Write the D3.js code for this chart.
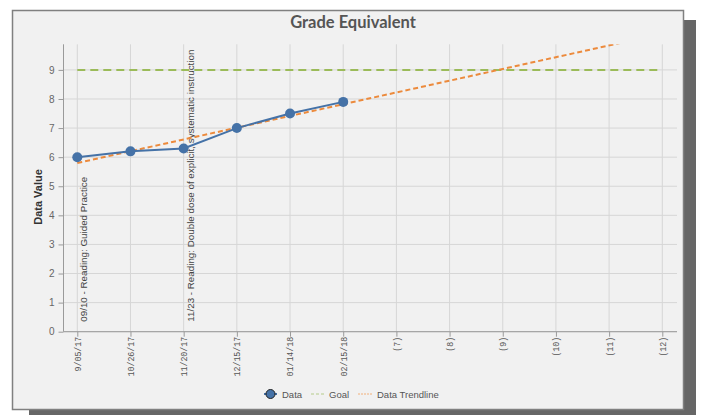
<!DOCTYPE html>
<html>
<head>
<meta charset="utf-8">
<script src="https://cdn.jsdelivr.net/npm/d3@7/dist/d3.min.js"></script>
<style>
  body { margin: 0; background: #fff; }
  svg text { font-family: "Liberation Sans", Arial, sans-serif; }
</style>
</head>
<body>
<div id="chart"></div>
<script>
// Category labels along the x axis
var dates = ["9/05/17", "10/26/17", "11/20/17", "12/15/17", "01/14/18", "02/15/18",
             "(7)", "(8)", "(9)", "(10)", "(11)", "(12)"];

// Measured grade equivalent values
var dataValues = [6.0, 6.2, 6.3, 7.0, 7.5, 7.9];

// Goal level
var goalValue = 9;

// Trendline end points (position along the axis, value)
var trendIdx = [0, 10.27];
var trendVal = [5.8, 9.95];

// Y tick labels
var yTicks = [0, 1, 2, 3, 4, 5, 6, 7, 8, 9];

// Intervention notes (category they sit on, text)
var noteCats = ["9/05/17", "11/20/17"];
var noteText = ["09/10 - Reading: Guided Practice",
                "11/23 - Reading: Double dose of explicit, systematic instruction"];

var width = 701, height = 415;

var svg = d3.select("#chart")
    .append("svg")
    .attr("width", width)
    .attr("height", height);

// drop shadow + panel
svg.append("rect")
    .attr("x", 29).attr("y", 20)
    .attr("width", 667).attr("height", 400)
    .attr("fill", "#666");

svg.append("rect")
    .attr("x", 12.5).attr("y", 10.5)
    .attr("width", 671).attr("height", 399)
    .attr("fill", "#f1f1f1")
    .attr("stroke", "#808080")
    .attr("stroke-width", 1.5);

// plot area
var plotLeft = 63.5, plotRight = 677, plotTop = 44.3, plotBottom = 331.7;

var xScale = d3.scalePoint()
    .domain(dates)
    .range([77.3, 662.3]);

// numeric helper for positions between categories
var xIdx = d3.scaleLinear()
    .domain([0, dates.length - 1])
    .range([xScale(dates[0]), xScale(dates[dates.length - 1])]);

var yScale = d3.scaleLinear()
    .domain([0, 9.88])
    .range([plotBottom, plotTop]);

svg.append("defs").append("clipPath")
    .attr("id", "plot-clip")
    .append("rect")
    .attr("x", plotLeft).attr("y", plotTop)
    .attr("width", plotRight - plotLeft).attr("height", plotBottom - plotTop);

// horizontal grid
svg.append("g")
    .selectAll("line")
    .data(yTicks)
    .enter()
    .append("line")
    .attr("x1", plotLeft).attr("x2", plotRight)
    .attr("y1", function (d) { return yScale(d); })
    .attr("y2", function (d) { return yScale(d); })
    .attr("stroke", "#d6d6d6")
    .attr("stroke-width", 1);

// vertical grid
svg.append("g")
    .selectAll("line")
    .data(dates)
    .enter()
    .append("line")
    .attr("x1", function (d) { return xScale(d); })
    .attr("x2", function (d) { return xScale(d); })
    .attr("y1", plotTop).attr("y2", plotBottom)
    .attr("stroke", "#d6d6d6")
    .attr("stroke-width", 1);

// y axis
var yAxis = d3.axisLeft(yScale)
    .tickValues(yTicks)
    .tickSize(5)
    .tickPadding(4)
    .tickSizeOuter(0);

var yAxisG = svg.append("g")
    .attr("transform", "translate(" + plotLeft + ",0)")
    .call(yAxis);
yAxisG.select(".domain").attr("stroke", "#9a9a9a").attr("d", "M0," + plotTop + "V" + plotBottom);
yAxisG.selectAll(".tick line").attr("stroke", "#9a9a9a");
yAxisG.selectAll(".tick text")
    .attr("fill", "#666")
    .style("font-size", "10px")
    .style("font-family", "'Liberation Sans', Arial, sans-serif");

// x axis
var xAxis = d3.axisBottom(xScale)
    .tickSize(5)
    .tickSizeOuter(0);

var xAxisG = svg.append("g")
    .attr("transform", "translate(0," + plotBottom + ")")
    .call(xAxis);
xAxisG.select(".domain").attr("stroke", "#9a9a9a").attr("d", "M" + plotLeft + ",0H" + plotRight);
xAxisG.selectAll(".tick line").attr("stroke", "#9a9a9a");
xAxisG.selectAll(".tick text")
    .attr("fill", "#555")
    .attr("transform", "translate(0,5) rotate(-90)")
    .attr("x", 0).attr("y", 0)
    .attr("dy", "0.35em")
    .style("text-anchor", "end")
    .style("font-size", "8.3px")
    .style("font-family", "'Liberation Mono', 'DejaVu Sans Mono', monospace");

// intervention notes
svg.append("g")
    .selectAll("text")
    .data(noteText)
    .enter()
    .append("text")
    .attr("transform", function (d, i) {
        return "translate(" + (xScale(noteCats[i]) + 10) + "," + (plotBottom - 10) + ") rotate(-90)";
    })
    .attr("fill", "#444")
    .style("font-size", "9.8px")
    .text(function (d) { return d; });

// goal line
svg.append("line")
    .attr("x1", xScale(dates[0]))
    .attr("x2", xScale(dates[dates.length - 1]) - 2)
    .attr("y1", yScale(goalValue))
    .attr("y2", yScale(goalValue))
    .attr("stroke", "#9bbb59")
    .attr("stroke-width", 2)
    .attr("stroke-dasharray", "8,5");

// trendline
var trendLine = d3.line()
    .x(function (d) { return xIdx(d); })
    .y(function (d, i) { return yScale(trendVal[i]); });

svg.append("path")
    .attr("clip-path", "url(#plot-clip)")
    .attr("d", trendLine(trendIdx))
    .attr("fill", "none")
    .attr("stroke", "#ec8a3c")
    .attr("stroke-width", 2)
    .attr("stroke-dasharray", "5,3");

// data line
var dataLine = d3.line()
    .x(function (d, i) { return xScale(dates[i]); })
    .y(function (d) { return yScale(d); });

svg.append("path")
    .attr("d", dataLine(dataValues))
    .attr("fill", "none")
    .attr("stroke", "#4572a7")
    .attr("stroke-width", 2);

svg.append("g")
    .selectAll("circle")
    .data(dataValues)
    .enter()
    .append("circle")
    .attr("cx", function (d, i) { return xScale(dates[i]); })
    .attr("cy", function (d) { return yScale(d); })
    .attr("r", 5)
    .attr("fill", "#4572a7");

// title
svg.append("text")
    .attr("x", 353)
    .attr("y", 27.5)
    .style("text-anchor", "middle")
    .style("font-family", "Lato, 'Open Sans', sans-serif")
    .style("font-weight", "bold")
    .style("font-size", "16.5px")
    .attr("fill", "#555")
    .text("Grade Equivalent");

// y axis label
svg.append("text")
    .attr("transform", "rotate(-90)")
    .attr("x", 0 - 197)
    .attr("y", 42)
    .style("text-anchor", "middle")
    .style("font-weight", "bold")
    .style("font-size", "11px")
    .attr("fill", "#333")
    .text("Data Value");

// legend
var legY = 394;
var legend = svg.append("g");

legend.append("line")
    .attr("x1", 264).attr("x2", 277)
    .attr("y1", legY).attr("y2", legY)
    .attr("stroke", "#4572a7").attr("stroke-width", 2);
legend.append("circle")
    .attr("cx", 270.5).attr("cy", legY).attr("r", 4.5)
    .attr("fill", "#4572a7").attr("stroke", "#222").attr("stroke-width", 1);
legend.append("text")
    .attr("x", 282).attr("y", legY + 3.5)
    .attr("fill", "#555").style("font-size", "9.5px")
    .text("Data");

legend.append("line")
    .attr("x1", 311).attr("x2", 326)
    .attr("y1", legY).attr("y2", legY)
    .attr("stroke", "#b5cc8a").attr("stroke-width", 1)
    .attr("stroke-dasharray", "3,2");
legend.append("text")
    .attr("x", 329).attr("y", legY + 3.5)
    .attr("fill", "#555").style("font-size", "9.5px")
    .text("Goal");

legend.append("line")
    .attr("x1", 358).attr("x2", 373)
    .attr("y1", legY).attr("y2", legY)
    .attr("stroke", "#f2b07a").attr("stroke-width", 1)
    .attr("stroke-dasharray", "2,1");
legend.append("text")
    .attr("x", 377).attr("y", legY + 3.5)
    .attr("fill", "#555").style("font-size", "9.5px")
    .text("Data Trendline");
</script>
</body>
</html>
